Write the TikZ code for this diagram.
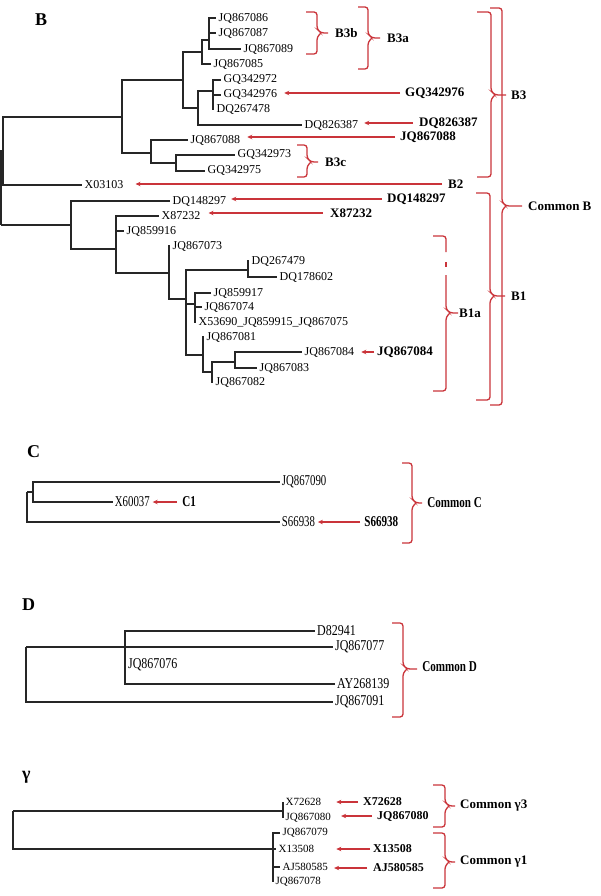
\documentclass[tikz,border=0pt]{standalone}
\usepackage{fontspec}
\setmainfont{Liberation Serif}
\usepackage{tikz}
\usetikzlibrary{calc,arrows.meta}
\definecolor{cladered}{RGB}{202,52,58}

\begin{document}
\begin{tikzpicture}[x=1pt,y=-1pt,
    branch/.style={line width=1.1pt,black!85},
    leaf/.style={anchor=west,inner sep=2.5pt,font=\fontsize{12}{12}\selectfont},
    leafc/.style={leaf,font=\fontsize{15}{15}\selectfont,xscale=.72},
    leafd/.style={leaf,font=\fontsize{15}{15}\selectfont,xscale=.8},
    leafg/.style={leaf,font=\fontsize{11}{11}\selectfont},
    marker/.style={anchor=west,inner sep=3pt,font=\bfseries\fontsize{13}{13}\selectfont},
    markerc/.style={marker,font=\bfseries\fontsize{15}{15}\selectfont,xscale=.74},
    markerg/.style={marker,font=\bfseries\fontsize{12}{12}\selectfont},
    pointer/.style={draw=cladered,line width=1.6pt,-{Stealth[length=5pt,width=4.5pt]}},
    bracket/.style={draw=cladered,line width=1.3pt,rounded corners=3pt},
    panel/.style={anchor=west,inner sep=0pt,font=\bfseries\fontsize{18}{18}\selectfont}]
  \useasboundingbox (0,0) rectangle (600,896);

  \node[panel] (panelB) at (35,20) {B};
  \node[panel] (panelC) at (27,452) {C};
  \node[panel] (panelD) at (22,605) {D};
  \node[panel] (panelG) at (22,777) {γ};

  % tree B
  \foreach \n/\x/\y in {JQ867086/216/18, JQ867087/216/33, JQ867089/241/49, JQ867085/211/64,
      GQ342972/221/80, GQ342976/221/95, DQ267478/214/109, DQ826387/302/125, JQ867088/188/140,
      GQ342973/235/155, GQ342975/205/171, X03103/82/185, DQ148297/170/201, X87232/159/216,
      JQ859916/124/231, JQ867073/170/246, DQ267479/249/261, DQ178602/277/277, JQ859917/211/293,
      JQ867074/202/307, JQ867081/204/337, JQ867084/302/352, JQ867083/257/368, JQ867082/213/382}
    {\node[leaf] (\n) at (\x,\y) {\n};}
  \node[leaf] (X53690) at (196,322) {X53690\_JQ859915\_JQ867075};
  \foreach \n/\x/\y in {bA/209/40, bB/202/52, bC/213/91, bD/198/108, bE/183/80, bF/176/163,
      bG/151/153, bH/122/117, bI/3/151, bJ/71/225, bK/116/249, bL/169/273, bM/186/299,
      bN/248/270, bO/195/304, bP/203/355, bQ/212/372, bR/235/362, bRoot/1/225}
    {\coordinate (\n) at (\x,\y);}
  \foreach \p/\c in {bA/JQ867086, bA/JQ867087, bA/JQ867089, bB/bA, bB/JQ867085,
      bC/GQ342972, bC/GQ342976, bC/DQ267478, bD/bC, bD/DQ826387, bE/bB, bE/bD,
      bF/GQ342973, bF/GQ342975, bG/JQ867088, bG/bF, bH/bE, bH/bG, bI/bH, bI/X03103,
      bRoot/bI, bRoot/bJ, bJ/DQ148297, bJ/bK, bK/X87232, bK/JQ859916, bK/bL,
      bL/JQ867073, bL/bM, bM/bN, bM/bO, bM/bP, bN/DQ267479, bN/DQ178602,
      bO/JQ859917, bO/JQ867074, bO/X53690, bP/JQ867081, bP/bQ, bQ/bR, bQ/JQ867082,
      bR/JQ867084, bR/JQ867083}
    {\draw[branch] (\p) |- (\c);}

  % tree C
  \foreach \n/\x/\y in {JQ867090/280/482, X60037/113/502, S66938/280/522}
    {\node[leafc] (\n) at (\x,\y) {\n};}
  \coordinate (cRoot) at (27,492);
  \coordinate (cA) at (33,492);
  \foreach \p/\c in {cRoot/cA, cRoot/S66938, cA/JQ867090, cA/X60037}
    {\draw[branch] (\p) |- (\c);}

  % tree D
  \foreach \n/\x/\y in {D82941/315/631, JQ867077/333/647, AY268139/335/684, JQ867091/333/702}
    {\node[leafd] (\n) at (\x,\y) {\n};}
  \node[leafd] (JQ867076) at (126,665) {JQ867076};
  \coordinate (dRoot) at (26,647);
  \coordinate (dA) at (125,647);
  \foreach \p/\c in {dRoot/dA, dRoot/JQ867091, dA/D82941, dA/JQ867077, dA/AY268139}
    {\draw[branch] (\p) |- (\c);}

  % tree gamma
  \foreach \n/\x/\y in {X72628/283/802, JQ867080/283/818, JQ867079/280/833, X13508/276/849,
      AJ580585/280/867, JQ867078/273/882}
    {\node[leafg] (\n) at (\x,\y) {\n};}
  \coordinate (gRoot) at (13,811);
  \coordinate (gA) at (283,811);
  \coordinate (gB) at (273,849);
  \foreach \p/\c in {gRoot/gA, gRoot/gB, gA/X72628, gA/JQ867080, gB/JQ867079, gB/X13508,
      gB/AJ580585, gB/JQ867078}
    {\draw[branch] (\p) |- (\c);}

  % brackets
  \foreach \lx/\sx/\t/\b/\m/\tx in {306/317/12/54/33/328, 358/368/7/69/38/380,
      297/307/145/177/162/318, 477/491/12/177/95/506, 476/490/193/400/296/505,
      490/502/8/405/206/522, 402/412/463/543/503/422, 392/403/623/717/669/417,
      433/445/785/827/806/455, 433/445/833/888/862/455}
    {\draw[bracket] (\lx,\t) -- (\sx,\t) -- (\sx,\m-4) -- (\sx+4,\m) -- (\tx,\m)
       (\sx+4,\m) -- (\sx,\m+4) -- (\sx,\b) -- (\lx,\b);}
  \draw[bracket] (433,236) -- (446,236) -- (446,252);
  \draw[bracket] (446,262) -- (446,267);
  \draw[bracket] (446,275) -- (446,309) -- (450,313) -- (458,313)
     (450,313) -- (446,317) -- (446,391) -- (433,391);

  \node[marker] (B3b) at (332,33) {B3b};
  \node[marker] (B3a) at (384,38) {B3a};
  \node[marker] (B3c) at (322,162) {B3c};
  \node[marker] (B3) at (508,95) {B3};
  \node[marker] (B1) at (508,296) {B1};
  \node[marker] (B1a) at (456,313) {B1a};
  \node[marker] (CommonB) at (525,206) {Common B};
  \node[markerc] (CommonC) at (425,503) {Common C};
  \node[markerc] (CommonD) at (420,667) {Common D};
  \node[marker] (CommonG3) at (457,806) {Common γ3};
  \node[marker] (CommonG1) at (457,862) {Common γ1};

  % pointers
  \foreach \n/\x/\y in {GQ342976/402/93, DQ826387/416/123, JQ867088/397/137, B2/445/184,
      DQ148297/384/199, X87232/327/213, JQ867084/374/352}
    {\node[marker] (m\n) at (\x,\y) {\n};}
  \node[markerc] (mC1) at (180,502) {C1};
  \node[markerc] (mS66938) at (362,522) {S66938};
  \foreach \n/\x/\y in {X72628/360/802, JQ867080/374/816, X13508/370/849, AJ580585/370/868}
    {\node[markerg] (m\n) at (\x,\y) {\n};}
  \foreach \n/\l/\a/\b in {GQ342976/GQ342976/2pt/4.5pt, DQ826387/DQ826387/3pt/3.5pt,
      JQ867088/JQ867088/2pt/4.5pt, B2/X03103/3pt/9.5pt, DQ148297/DQ148297/2pt/2.5pt,
      X87232/X87232/4pt/5.5pt, JQ867084/JQ867084/0pt/4.5pt, C1/X60037/3pt/1pt,
      S66938/S66938/2pt/1pt, X72628/X72628/2pt/12.5pt, JQ867080/JQ867080/2pt/7.5pt,
      X13508/X13508/0pt/19.5pt, AJ580585/AJ580585/3pt/3.5pt}
    {\draw[pointer,shorten <=\a,shorten >=\b] (m\n.west) -- (m\n.west -| \l.east);}
\end{tikzpicture}
\end{document}
